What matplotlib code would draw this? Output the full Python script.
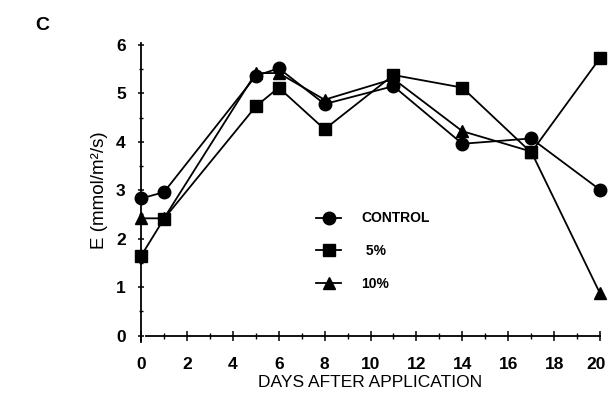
import numpy as np
import matplotlib
matplotlib.use("Agg")
import matplotlib.pyplot as plt
from matplotlib.ticker import MultipleLocator, FuncFormatter

plt.rcParams['font.family'] = ['Liberation Sans', 'DejaVu Sans']

# transpiration rate E over days after application
days = [0, 1, 5, 6, 8, 11, 14, 17, 20]
control = [2.83, 2.96, 5.36, 5.52, 4.78, 5.15, 3.96, 4.07, 3.01]
pct5 = [1.64, 2.41, 4.73, 5.12, 4.26, 5.38, 5.12, 3.78, 5.73]
pct10 = [2.42, 2.42, 5.42, 5.42, 4.87, 5.30, 4.22, 3.80, 0.87]
xmax = 20

fig = plt.figure(figsize=(6.08, 4.01), dpi=100)
ax = fig.add_axes([141 / 608, 1 - 335.5 / 401, 459 / 608, 290.5 / 401])

kw = dict(color='black', lw=1.3, clip_on=False, zorder=3)
ax.plot(days, control, marker='o', ms=9, label='CONTROL', **kw)
ax.plot(days, pct5, marker='s', ms=9, label=' 5%', **kw)
ax.plot(days, pct10, marker='^', ms=9, label='10%', **kw)

ax.set_xlim(0, xmax)
ax.set_ylim(0, 6)
ax.xaxis.set_major_locator(MultipleLocator(2))
ax.xaxis.set_minor_locator(MultipleLocator(1))
ax.yaxis.set_major_locator(MultipleLocator(1))
ax.yaxis.set_minor_locator(MultipleLocator(0.5))
# last day label is placed by hand so it stays inside the figure
ax.xaxis.set_major_formatter(
    FuncFormatter(lambda v, p: '' if v >= xmax else f'{v:g}'))

for s in ['top', 'right']:
    ax.spines[s].set_visible(False)
ax.spines['left'].set_bounds(-0.13, 6.05)
ax.spines['bottom'].set_bounds(0.22, xmax)
ax.spines['left'].set_linewidth(1.3)
ax.spines['bottom'].set_linewidth(1.3)

ax.tick_params(which='major', direction='inout', length=7, width=1.1,
               labelsize=12.5)
ax.tick_params(which='minor', direction='inout', length=4, width=1.0)
ax.tick_params(axis='x', which='major', pad=12)
ax.tick_params(axis='y', which='major', length=4, pad=9)
ax.tick_params(axis='y', which='minor', length=3)
for lab in ax.get_xticklabels() + ax.get_yticklabels():
    lab.set_fontweight('bold')

ax.annotate(f'{xmax}', xy=(xmax, 0), xycoords='data',
            xytext=(-3, -15.5), textcoords='offset points',
            ha='center', va='top', fontsize=12.5, fontweight='bold')

ax.set_xlabel('DAYS AFTER APPLICATION', fontsize=12.5, labelpad=2)
ax.set_ylabel('E (mmol/m\u00b2/s)', fontsize=13.5, labelpad=6)

fig.text(42 / 608, 1 - 25 / 401, 'C', fontsize=14, fontweight='bold',
         ha='center', va='center')

ax.legend(loc='upper left', bbox_to_anchor=(0.355, 0.47), frameon=False,
          handlelength=1.75, handletextpad=1.5, labelspacing=1.35,
          prop={'size': 10, 'weight': 'bold'})

fig.savefig('out.png', dpi=100)
